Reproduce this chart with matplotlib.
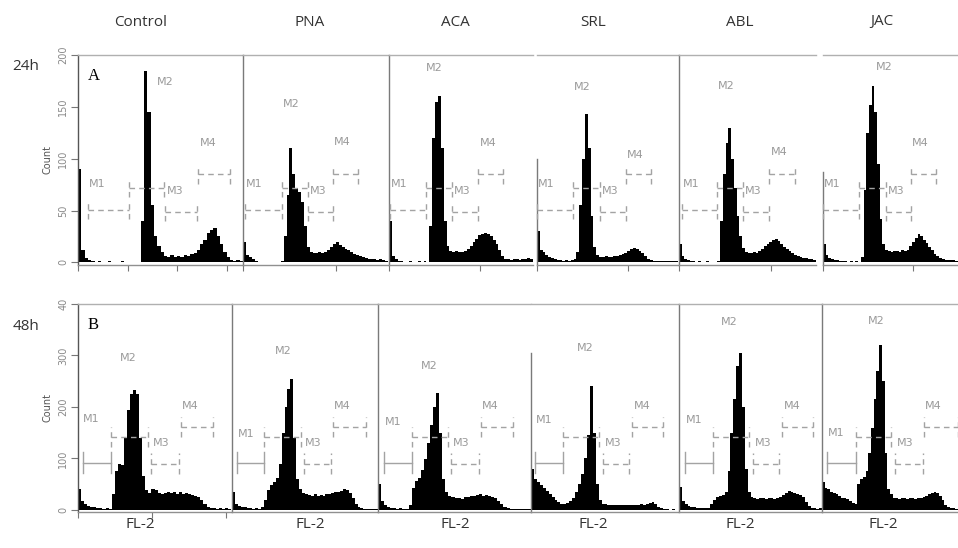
import matplotlib.pyplot as plt
import numpy as np

# histogram counts, 50 bins over the FL-2 range of each panel (0-100 % of width)
ctrl_24 = [90, 12, 4, 2, 1, 0, 1, 0, 0, 1, 0, 0, 0, 1, 0, 0, 0, 0, 0, 40,
           185, 145, 55, 25, 16, 10, 6, 5, 7, 5, 6, 5, 7, 6, 8, 9, 12, 18, 22, 28,
           31, 33, 25, 18, 10, 5, 2, 1, 2, 1]
pna_24 = [20, 7, 5, 3, 1, 0, 0, 0, 0, 0, 0, 0, 0, 1, 25, 65, 110, 85, 72, 68,
          58, 35, 15, 10, 9, 9, 10, 9, 10, 12, 15, 18, 20, 17, 15, 13, 12, 10, 8, 7,
          6, 5, 4, 3, 3, 3, 2, 3, 2, 1]
aca_24 = [40, 6, 3, 1, 1, 0, 0, 1, 0, 0, 1, 0, 1, 0, 35, 120, 155, 160, 110, 40,
          16, 11, 10, 11, 10, 10, 11, 13, 16, 20, 23, 26, 27, 28, 27, 25, 22, 18, 12, 6,
          3, 3, 2, 3, 3, 2, 3, 3, 4, 3]
srl_24 = [30, 12, 10, 7, 5, 4, 3, 2, 2, 1, 2, 1, 2, 3, 10, 55, 100, 143, 110, 45,
          15, 7, 5, 5, 6, 5, 5, 6, 6, 7, 8, 9, 11, 13, 14, 13, 11, 9, 6, 3,
          2, 1, 1, 1, 1, 1, 1, 1, 1, 1]
abl_24 = [18, 6, 3, 2, 1, 1, 0, 1, 0, 0, 1, 0, 0, 0, 1, 40, 85, 115, 130, 100,
          72, 45, 25, 14, 10, 9, 9, 10, 9, 11, 13, 16, 18, 20, 22, 23, 21, 18, 15, 13,
          11, 9, 7, 6, 5, 4, 4, 3, 3, 2]
jac_24 = [18, 7, 4, 3, 2, 2, 1, 1, 1, 0, 1, 0, 1, 0, 5, 70, 125, 152, 170, 145,
          95, 42, 18, 12, 11, 10, 11, 11, 10, 12, 11, 12, 16, 20, 24, 27, 25, 22, 19, 15,
          12, 8, 6, 4, 3, 2, 2, 2, 2, 1]

ctrl_48 = [40, 18, 12, 7, 6, 5, 3, 3, 2, 3, 2, 30, 75, 90, 88, 140, 195, 225, 232, 225,
           140, 65, 38, 32, 40, 38, 32, 30, 33, 35, 32, 34, 30, 35, 31, 33, 30, 29, 28, 26,
           20, 12, 6, 3, 3, 2, 3, 2, 3, 2]
pna_48 = [35, 12, 7, 6, 5, 3, 3, 2, 3, 2, 5, 20, 38, 48, 54, 62, 90, 150, 200, 235,
          255, 140, 60, 40, 32, 30, 29, 28, 30, 27, 29, 28, 30, 31, 33, 35, 34, 37, 40, 38,
          32, 24, 12, 5, 3, 2, 2, 2, 1, 2]
aca_48 = [50, 18, 10, 6, 3, 3, 2, 3, 2, 2, 10, 42, 56, 62, 78, 98, 130, 165, 200, 228,
          150, 60, 35, 28, 25, 23, 24, 22, 25, 26, 28, 27, 29, 30, 28, 29, 27, 25, 23, 18,
          12, 6, 3, 2, 2, 2, 2, 1, 2, 2]
srl_48 = [80, 60, 54, 48, 42, 37, 31, 25, 20, 16, 12, 11, 13, 18, 24, 35, 50, 70, 100, 145,
          240, 150, 50, 20, 12, 11, 10, 10, 9, 10, 9, 10, 9, 10, 10, 9, 10, 11, 10, 12,
          13, 15, 12, 6, 3, 1, 1, 0, 1, 0]
abl_48 = [45, 18, 12, 8, 6, 5, 3, 3, 4, 3, 4, 12, 20, 26, 28, 29, 35, 75, 150, 215,
          280, 305, 200, 80, 35, 25, 23, 22, 24, 23, 22, 24, 23, 22, 24, 25, 29, 33, 36, 34,
          33, 31, 29, 25, 16, 8, 4, 3, 2, 3]
jac_48 = [55, 42, 40, 34, 32, 30, 27, 24, 23, 22, 18, 14, 12, 50, 60, 64, 75, 110, 160, 215,
          270, 320, 250, 110, 40, 30, 24, 23, 22, 24, 23, 22, 23, 24, 22, 23, 24, 25, 28, 30,
          32, 34, 33, 28, 20, 10, 5, 3, 3, 2]

lectins = ['Control', 'PNA', 'ACA', 'SRL', 'ABL', 'JAC']
hist_24 = [ctrl_24, pna_24, aca_24, srl_24, abl_24, jac_24]
hist_48 = [ctrl_48, pna_48, aca_48, srl_48, abl_48, jac_48]

# marker gates M1..M4 as (start, end) in % of panel width
gates_24 = [[(6, 31), (31, 52), (53, 72), (73, 92)],
            [(1.4, 27), (27, 45), (45, 62), (62, 79)],
            [(0.7, 26), (26, 44), (44, 62), (62, 79)],
            [(0, 25.5), (25.5, 44.7), (44.7, 63), (63, 81)],
            [(2, 28), (28, 47), (47, 66), (66, 85)],
            [(0, 27), (27, 47), (47, 65), (65, 84)]]
gates_48 = [[(3, 21.5), (21.5, 46), (48, 66), (67, 88)],
            [(3.4, 22), (22, 47.3), (49, 68), (69, 92)],
            [(4, 22), (22, 46), (48, 66), (67, 88)],
            [(3, 22), (22, 46), (49, 67), (69, 90)],
            [(4, 24), (24, 49), (52, 70), (72, 94)],
            [(4, 25), (25, 51), (54, 74), (75, 100)]]
gate_y_24 = [51, 72, 49, 85]
gate_y_48 = [92, 142, 90, 161]
m2_label_24 = [(48, 174), (27.6, 153), (25.7, 187), (26, 169), (28.5, 170), (39, 188)]
m4_label_y_24 = [115, 116, 115, 104, 106, 115]
m2_label_48 = [(27.5, 295), (29.5, 309), (28, 280), (31, 315), (29.4, 365), (34, 367)]
m1_label_y_48 = [177, 148, 171, 175, 175, 150]

W, H = 958, 548
fig = plt.figure(figsize=(W / 100, H / 100), dpi=100)
fig.patch.set_facecolor('white')

gcol = '#a3a3a3'
dash = (0, (4, 3))

# panel pixel boxes: (left, right)
cols_24 = [(78, 243), (243, 388), (389, 533), (537, 678), (679, 816), (823, 958)]
cols_48 = [(78, 231), (232, 378), (378, 531), (531, 678), (679, 822), (822, 958)]
left_top_24 = [200, 200, 200, 100, 200, 87]
left_top_48 = [400, 400, 400, 305, 400, 400]
xt_24 = [[0, 30, 60, 90], [0, 64], [0, 63], [0, 64.5], [0, 67], [0, 67]]
xt_48 = [[0, 48.4, 97], [], [], [], [], []]

edges = np.linspace(0, 100, 51)


def panel(x0, x1, ytop, ybot):
    return fig.add_axes([x0 / W, 1 - ybot / H, (x1 - x0) / W, (ybot - ytop) / H])


def draw_gate(ax, a, b, y, half, ls):
    kw = dict(color=gcol, lw=1, ls=ls, clip_on=False, zorder=3)
    ax.plot([a, b], [y, y], **kw)
    ax.plot([a, a], [y - half, y + half], **kw)
    ax.plot([b, b], [y - half, y + half], **kw)


for row in range(2):
    if row == 0:
        hists, gates, gys, cols, ltop = hist_24, gates_24, gate_y_24, cols_24, left_top_24
        ytop, ybot, ylim, half, xts = 55, 265, (-2.5, 200), 9, xt_24
    else:
        hists, gates, gys, cols, ltop = hist_48, gates_48, gate_y_48, cols_48, left_top_48
        ytop, ybot, ylim, half, xts = 304, 512, (-4, 400), 20, xt_48
    for j in range(6):
        ax = panel(cols[j][0], cols[j][1], ytop, ybot)
        ax.stairs(hists[j], edges, fill=True, color='black', baseline=0, zorder=2)
        ax.set_xlim(0, 100)
        ax.set_ylim(*ylim)
        ax.spines['right'].set_visible(False)
        ax.spines['top'].set_color('#b0b0b0')
        ax.spines['bottom'].set_color('#909090')
        ax.spines['left'].set_color('#555555' if j == 0 else '#7a7a7a')
        ax.spines['left'].set_bounds(ylim[0], ltop[j])
        for s in ax.spines.values():
            s.set_linewidth(1)
        ax.set_xticks(xts[j])
        ax.set_xticklabels([])
        ax.tick_params(axis='x', direction='out', length=4, color='#777777')
        if j == 0:
            if row == 0:
                ax.set_yticks([0, 50, 100, 150, 200])
                ax.set_yticklabels(['0', '50', '100', '150', '200'])
            else:
                ax.set_yticks([0, 100, 200, 300, 400])
                ax.set_yticklabels(['0', '100', '200', '300', '40'])
            ax.tick_params(axis='y', direction='out', length=5, color='#777777',
                           labelsize=7, labelcolor='#8a8a8a', pad=2)
            for t in ax.get_yticklabels():
                t.set_rotation(90)
                t.set_va('center')
            ax.set_ylabel('Count', fontsize=7, color='#555555', labelpad=4)
        else:
            ax.set_yticks([])

        g = gates[j]
        for k in range(4):
            ls = '-' if (row == 1 and k == 0) else dash
            draw_gate(ax, g[k][0], g[k][1], gys[k], half, ls)
        tkw = dict(color='#9a9a9a', fontsize=8, va='center', ha='left', zorder=4)
        if row == 0:
            ax.text(g[0][0] + 0.5, 76, 'M1', **tkw)
            ax.text(m2_label_24[j][0], m2_label_24[j][1], 'M2', **tkw)
            ax.text(g[2][0] + 1.0, 69, 'M3', **tkw)
            ax.text(g[3][0] + 1.0, m4_label_y_24[j], 'M4', **tkw)
        else:
            ax.text(g[0][0] + 0.5, m1_label_y_48[j], 'M1', **tkw)
            ax.text(m2_label_48[j][0], m2_label_48[j][1], 'M2', **tkw)
            ax.text(g[2][0] + 1.0, 130, 'M3', **tkw)
            ax.text(g[3][0] + 1.0, 202, 'M4', **tkw)
        if j == 0:
            ax.text(6, ylim[1] * 0.90, 'A' if row == 0 else 'B', fontsize=12,
                    family='Liberation Serif', va='center', ha='left')

# column headers, row labels, axis labels
head_x = [141, 310, 455, 593, 740, 882]
fl_x = [140, 310, 455, 593, 740, 883]
hfont = dict(family=['Open Sans', 'DejaVu Sans'], fontsize=11, color='#333333',
             ha='center', va='center')
for name, hx, fx in zip(lectins, head_x, fl_x):
    fig.text(hx / W, 1 - 22 / H, name, **hfont)
    fig.text(fx / W, 1 - 525 / H, 'FL-2', **hfont)
fig.text(26 / W, 1 - 66 / H, '24h', **hfont)
fig.text(26 / W, 1 - 326 / H, '48h', **hfont)

fig.savefig('out.png', dpi=100, facecolor='white')
